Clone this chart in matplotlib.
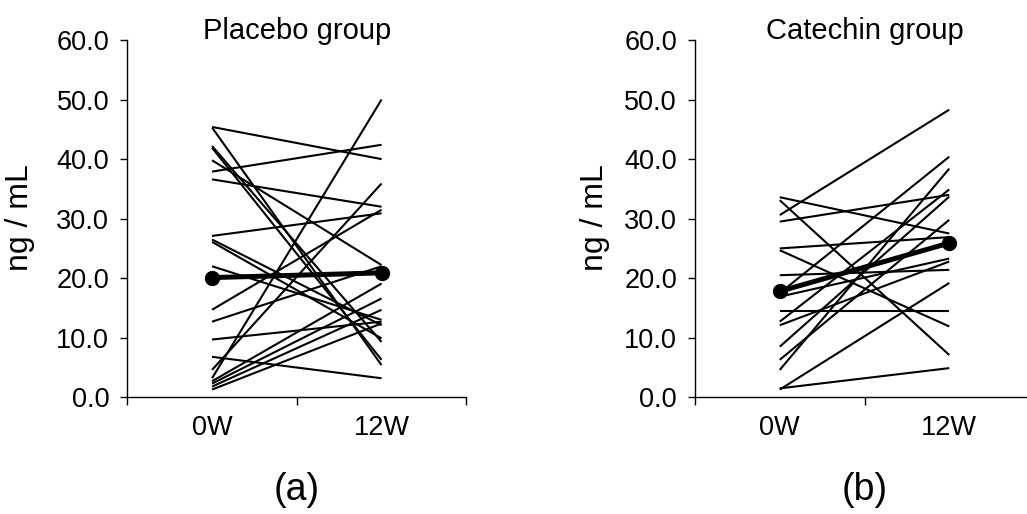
import numpy as np
import matplotlib
matplotlib.use("Agg")
import matplotlib.pyplot as plt

plt.rcParams['font.family'] = ['Liberation Sans', 'DejaVu Sans']

#%% data (ng/mL)
time_labels = ['0W', '12W']

placebo_0w = [45.4, 45.3, 42.2, 41.9, 39.8, 37.9, 36.6, 27.1, 26.5, 26.1, 22.0,
              14.7, 12.7, 9.7, 6.8, 4.6, 3.2, 2.7, 2.3, 1.8, 1.3]
placebo_12w = [40.0, 5.4, 9.3, 6.3, 22.2, 42.4, 32.0, 30.9, 12.1, 9.9, 13.0,
               31.5, 22.0, 12.7, 3.2, 35.9, 50.0, 19.1, 16.6, 14.7, 12.4]
placebo_mean = [20.1, 20.9]

catechin_0w = [33.6, 33.1, 30.6, 29.5, 25.0, 24.7, 20.5, 17.5, 16.9, 14.5,
               12.7, 12.1, 8.5, 6.3, 4.6, 1.5, 1.3]
catechin_12w = [27.5, 7.1, 48.3, 34.0, 26.9, 11.9, 21.4, 40.4, 23.3, 14.5,
                34.9, 22.8, 33.7, 29.8, 38.4, 4.9, 19.2]
catechin_mean = [17.8, 25.9]

titles = ['Placebo group', 'Catechin group']
panel_tags = ['(a)', '(b)']

#%% figure
fig = plt.figure(figsize=(10.27, 5.14), dpi=100)
W, H = 1027, 514

groups = [(placebo_0w, placebo_12w, placebo_mean),
          (catechin_0w, catechin_12w, catechin_mean)]
left_px = [127.3, 695]
ylab_px = [20, 595]

xpos = np.array([0.5, 1.5])
for i, (g0, g12, gm) in enumerate(groups):
    ax = fig.add_axes([left_px[i] / W, 1 - 397.3 / H, 339 / W, 357.3 / H])
    for a, b in zip(g0, g12):
        ax.plot(xpos, [a, b], color='black', lw=1.5, solid_capstyle='butt')
    ax.plot(xpos, gm, color='black', lw=3.6, marker='o', ms=10)

    ax.set_xlim(0, 2)
    ax.set_ylim(0, 60)
    ax.spines['top'].set_visible(False)
    ax.spines['right'].set_visible(False)
    for s in ['left', 'bottom']:
        ax.spines[s].set_linewidth(1.0)
    ax.spines['bottom'].set_clip_on(False)

    ax.set_yticks(np.arange(0, 61, 10))
    ax.set_yticklabels(['%.1f' % v for v in np.arange(0, 61, 10)])
    ax.tick_params(axis='y', direction='out', length=5, width=1.0,
                   labelsize=19.5, pad=8)
    ax.set_xticks([0, 1, 2])
    ax.set_xticklabels([])
    ax.tick_params(axis='x', which='major', direction='out', length=5.5, width=1.0)
    ax.set_xticks(xpos, minor=True)
    ax.set_xticklabels(time_labels, minor=True)
    ax.tick_params(axis='x', which='minor', length=0, labelsize=19.5, pad=13)

    fig.text((left_px[i] + 169.5) / W, 1 - 39 / H, titles[i],
             ha='center', va='baseline', fontsize=21)
    fig.text(ylab_px[i] / W, 1 - 218 / H, 'ng / mL', rotation=90,
             ha='center', va='center', fontsize=23)
    fig.text((left_px[i] + 169.5) / W, 1 - 490 / H, panel_tags[i],
             ha='center', va='center', fontsize=27)

fig.savefig('out.png', dpi=100)
